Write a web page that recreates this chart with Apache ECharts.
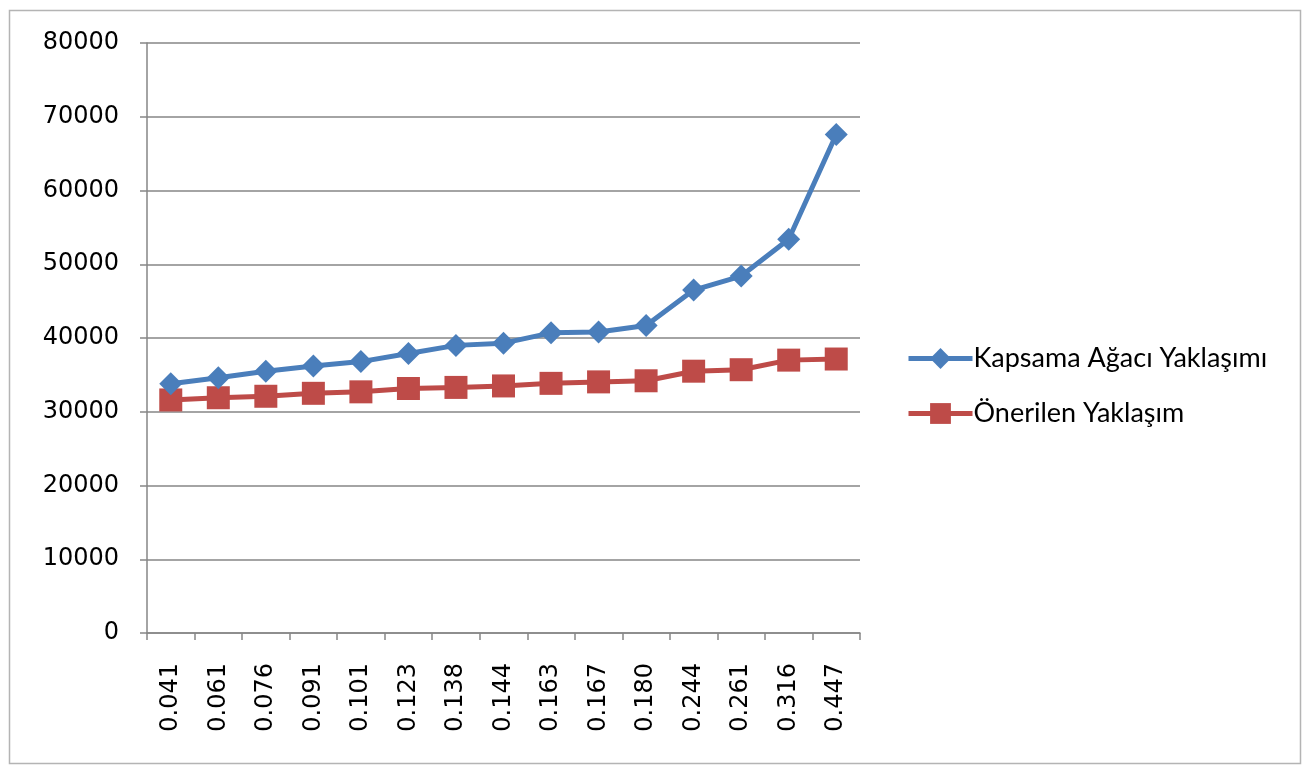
<!DOCTYPE html>
<html><head><meta charset="utf-8">
<script src="https://cdn.jsdelivr.net/npm/echarts@6/dist/echarts.min.js"></script>
<style>html,body{margin:0;padding:0;background:#fff}#c{width:1313px;height:776px}</style>
</head><body><div id="c"></div>
<script>
const categories = ['0.041','0.061','0.076','0.091','0.101','0.123','0.138','0.144','0.163','0.167','0.180','0.244','0.261','0.316','0.447'];
const kapsama = [33800, 34600, 35500, 36200, 36800, 37900, 39000, 39300, 40700, 40800, 41700, 46500, 48400, 53400, 67600];
const onerilen = [31600, 31900, 32100, 32500, 32700, 33150, 33300, 33500, 33850, 34050, 34200, 35500, 35700, 37000, 37150];
const yTicks = { min: 0, max: 80000, interval: 10000 };

const chart = echarts.init(document.getElementById('c'));
chart.setOption({
  animation: false,
  backgroundColor: '#fff',
  graphic: [{ type: 'rect', shape: { x: 9.5, y: 10.5, width: 1291, height: 753 },
    style: { fill: 'none', stroke: '#b4b4b4', lineWidth: 1.5 } }],
  grid: { left: 147, right: 1313 - 860, top: 43, bottom: 776 - 633 },
  legend: {
    orient: 'vertical', left: 901, top: 340, itemWidth: 64, itemHeight: 26, itemGap: 28,
    lineStyle: { width: 5 },
    textStyle: { fontFamily: 'Lato', fontSize: 27, color: '#000', padding: [0,0,0,-4] },
    data: ['Kapsama Ağacı Yaklaşımı', 'Önerilen Yaklaşım']
  },
  xAxis: {
    type: 'category', data: categories, boundaryGap: true,
    axisLine: { lineStyle: { color: '#868686', width: 1.5 } },
    axisTick: { show: true, length: 7, interval: 0, lineStyle: { color: '#868686', width: 1.5 } },
    axisLabel: { rotate: 90, interval: 0, margin: 30, fontFamily: 'DejaVu Sans, Verdana, sans-serif', fontSize: 24, color: '#000' },
    splitLine: { show: false }
  },
  yAxis: {
    type: 'value', min: yTicks.min, max: yTicks.max, interval: yTicks.interval,
    axisLine: { show: true, lineStyle: { color: '#868686', width: 1.5 } },
    axisTick: { show: true, length: 7, lineStyle: { color: '#868686', width: 1.5 } },
    axisLabel: { margin: 28, fontFamily: 'DejaVu Sans, Verdana, sans-serif', fontSize: 24, color: '#000',
      formatter: v => String(v) },
    splitLine: { show: true, lineStyle: { color: '#868686', width: 1.5 } }
  },
  series: [
    { name: 'Kapsama Ağacı Yaklaşımı', type: 'line', data: kapsama,
      symbol: 'diamond', symbolSize: 23, lineStyle: { color: '#4a7ebb', width: 5 },
      itemStyle: { color: '#4a7ebb' }, z: 3 },
    { name: 'Önerilen Yaklaşım', type: 'line', data: onerilen,
      symbol: 'rect', symbolSize: 23, lineStyle: { color: '#be4b48', width: 5 },
      itemStyle: { color: '#be4b48' }, z: 2 }
  ]
});
</script></body></html>
